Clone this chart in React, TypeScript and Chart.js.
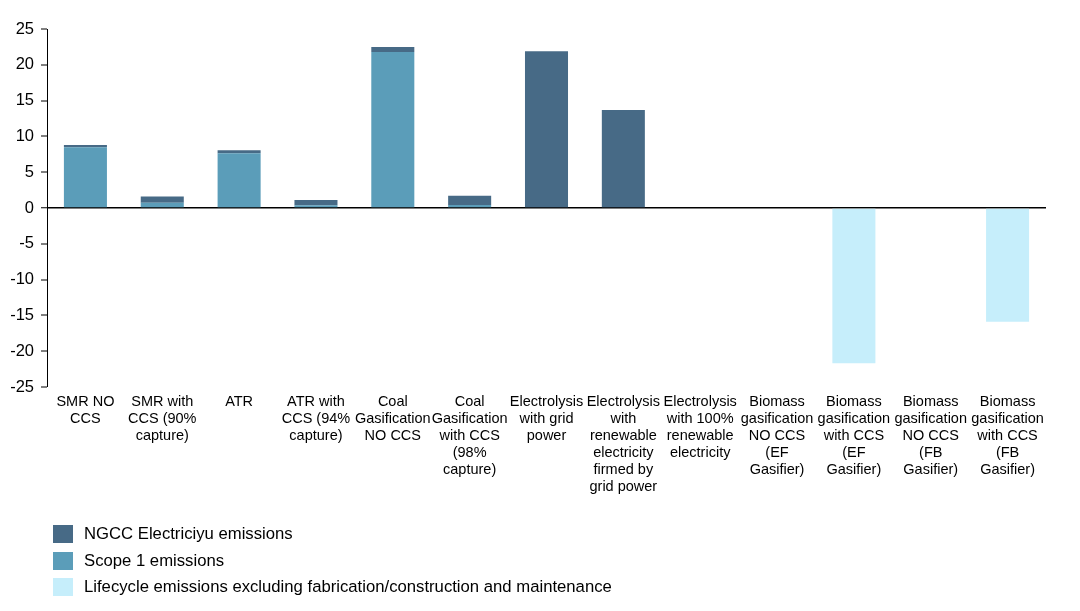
import React, { useEffect, useRef } from "react";
import { Chart, registerables } from "chart.js";

Chart.register(...registerables);

const categories: string[][] = [
  ["SMR NO", "CCS"],
  ["SMR with", "CCS (90%", "capture)"],
  ["ATR"],
  ["ATR with", "CCS (94%", "capture)"],
  ["Coal", "Gasification", "NO CCS"],
  ["Coal", "Gasification", "with CCS", "(98%", "capture)"],
  ["Electrolysis", "with grid", "power"],
  ["Electrolysis", "with", "renewable", "electricity", "firmed by", "grid power"],
  ["Electrolysis", "with 100%", "renewable", "electricity"],
  ["Biomass", "gasification", "NO CCS", "(EF", "Gasifier)"],
  ["Biomass", "gasification", "with CCS", "(EF", "Gasifier)"],
  ["Biomass", "gasification", "NO CCS", "(FB", "Gasifier)"],
  ["Biomass", "gasification", "with CCS", "(FB", "Gasifier)"],
];

const scope1Values = [8.5, 0.75, 7.65, 0.38, 21.8, 0.42, 0, 0, 0, 0, 0, 0, 0];
const ngccValues = [0.3, 0.85, 0.4, 0.74, 0.7, 1.3, 21.9, 13.7, 0, 0, 0, 0, 0];
const lifecycleValues = [0, 0, 0, 0, 0, 0, 0, 0, 0, 0, -21.7, 0, -15.9];

const yTicks = { min: -25, max: 25, step: 5 };

const seriesNames = {
  ngcc: "NGCC Electriciyu emissions",
  scope1: "Scope 1 emissions",
  lifecycle: "Lifecycle emissions excluding fabrication/construction and maintenance",
};

const colors = {
  ngcc: "#476A86",
  scope1: "#5B9DB9",
  lifecycle: "#C6EEFB",
};

const FONT = "'Liberation Sans', Arial, sans-serif";

export default function App() {
  const canvasRef = useRef<HTMLCanvasElement | null>(null);

  useEffect(() => {
    if (!canvasRef.current) return;
    const chart = new Chart(canvasRef.current, {
      type: "bar",
      data: {
        labels: categories,
        datasets: [
          {
            label: seriesNames.scope1,
            data: scope1Values,
            backgroundColor: colors.scope1,
            barPercentage: 0.56,
            categoryPercentage: 1,
          },
          {
            label: seriesNames.ngcc,
            data: ngccValues,
            backgroundColor: colors.ngcc,
            barPercentage: 0.56,
            categoryPercentage: 1,
          },
          {
            label: seriesNames.lifecycle,
            data: lifecycleValues,
            backgroundColor: colors.lifecycle,
            barPercentage: 0.56,
            categoryPercentage: 1,
          },
        ],
      },
      options: {
        animation: false,
        responsive: false,
        maintainAspectRatio: false,
        layout: { padding: { left: 0, right: 34, top: 29, bottom: 0 } },
        plugins: {
          legend: { display: false },
          tooltip: { enabled: false },
        },
        scales: {
          x: {
            stacked: true,
            grid: { display: false },
            border: { display: false },
            ticks: {
              color: "#000",
              font: { family: FONT, size: 14.5, lineHeight: 1.18 },
              maxRotation: 0,
              minRotation: 0,
              autoSkip: false,
              padding: -2,
            },
            afterFit: (scale: any) => {
              scale.height = 224;
            },
          },
          y: {
            stacked: true,
            min: yTicks.min,
            max: yTicks.max,
            ticks: {
              stepSize: yTicks.step,
              color: "#000",
              font: { family: FONT, size: 16.5 },
              padding: 7,
            },
            grid: {
              color: (ctx: any) => (ctx.tick && ctx.tick.value === 0 ? "#000" : "rgba(0,0,0,0)"),
              lineWidth: (ctx: any) => (ctx.tick && ctx.tick.value === 0 ? 1.5 : 0),
              tickColor: "#000",
              tickWidth: 1,
              tickLength: 6,
              drawTicks: true,
            },
            border: { display: true, color: "#000", width: 1 },
            afterFit: (scale: any) => {
              scale.width = 47;
            },
          },
        },
      },
    });
    return () => chart.destroy();
  }, []);

  const legendItems = [
    { name: seriesNames.ngcc, color: colors.ngcc },
    { name: seriesNames.scope1, color: colors.scope1 },
    { name: seriesNames.lifecycle, color: colors.lifecycle },
  ];

  return (
    <div
      style={{
        position: "fixed",
        left: 0,
        top: 0,
        width: 1080,
        height: 611,
        background: "#fff",
        overflow: "hidden",
      }}
    >
      <canvas
        ref={canvasRef}
        width={1080}
        height={611}
        style={{ position: "absolute", left: 0, top: 0, width: 1080, height: 611 }}
      />
      <div style={{ position: "absolute", left: 53, top: 525, fontFamily: FONT, fontSize: 16.7, color: "#000" }}>
        {legendItems.map((it) => (
          <div key={it.name} style={{ display: "flex", alignItems: "center", height: 26.5 }}>
            <span
              style={{
                display: "inline-block",
                width: 20,
                height: 18,
                background: it.color,
                marginRight: 11,
                marginTop: -8,
              }}
            />
            <span style={{ marginTop: -8, whiteSpace: "nowrap" }}>{it.name}</span>
          </div>
        ))}
      </div>
    </div>
  );
}
